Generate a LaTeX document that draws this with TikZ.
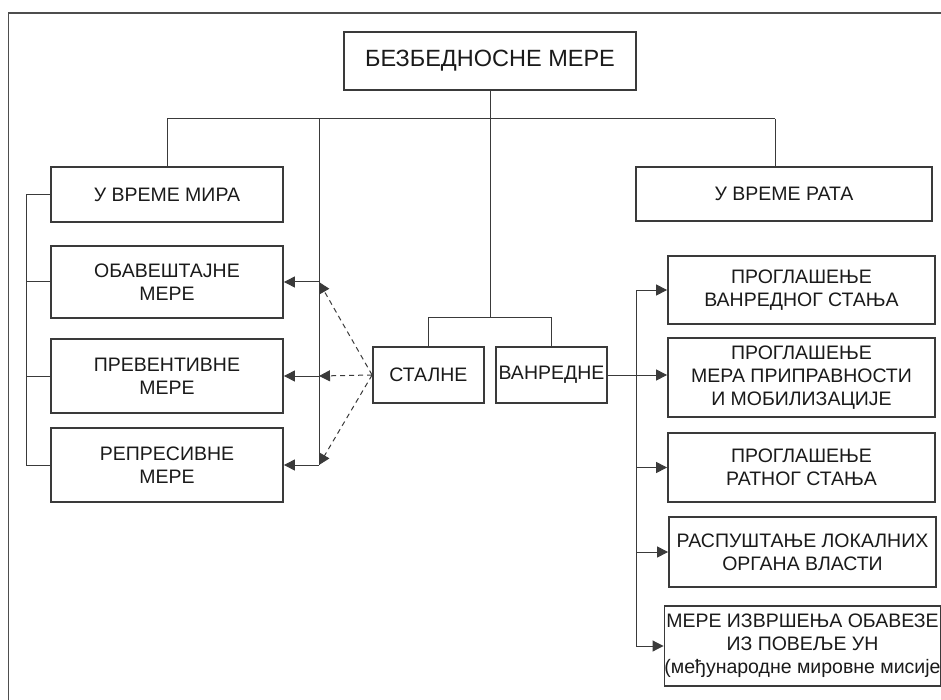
\documentclass[tikz,border=0pt]{standalone}
\usepackage{fontspec}
\setmainfont{Liberation Sans}
\usetikzlibrary{arrows.meta}
\definecolor{ln}{HTML}{3A3A3A}
\definecolor{tx}{HTML}{1A1A1A}
\tikzset{
  box/.style={draw=ln, line width=1.8pt, rectangle, inner sep=0pt, align=center, text=tx,
    font=\fontsize{19.5}{23}\selectfont},
  conn/.style={draw=ln, line width=1pt},
  arr/.style={conn, -{Triangle[length=11pt,width=11pt]}},
  darr/.style={conn, dashed, dash pattern=on 5pt off 4pt, -{Triangle[length=11pt,width=11pt]}},
}
\begin{document}
\begin{tikzpicture}[x=1pt,y=-1pt]
\useasboundingbox (0,0) rectangle (941,700);
% frame
\draw[draw=ln!90, line width=1.5pt] (8.5,710) -- (8.5,13) -- (950,13);
% nodes
\node[box, minimum width=292, minimum height=58, font=\fontsize{23.5}{26}\selectfont] (top) at (490,61) {БЕЗБЕДНОСНЕ МЕРЕ};
\node[box, minimum width=232, minimum height=55, font=\fontsize{19.5}{22}\selectfont] (mira) at (167,194.5) {У ВРЕМЕ МИРА};
\node[box, minimum width=296, minimum height=54, font=\fontsize{19.5}{22}\selectfont] (rata) at (784,194) {У ВРЕМЕ РАТА};
\node[box, minimum width=232, minimum height=72] (ob) at (167,282) {ОБАВЕШТАЈНЕ\\МЕРЕ};
\node[box, minimum width=232, minimum height=74] (prev) at (167,376) {ПРЕВЕНТИВНЕ\\МЕРЕ};
\node[box, minimum width=232, minimum height=74] (rep) at (167,465) {РЕПРЕСИВНЕ\\МЕРЕ};
\node[box, minimum width=111, minimum height=56] (stal) at (428.5,375) {СТАЛНЕ};
\node[box, minimum width=111, minimum height=56] (van) at (551.5,375) {ВАНРЕДНЕ};
\node[box, minimum width=267, minimum height=68] (r1) at (801.5,290) {ПРОГЛАШЕЊЕ\\ВАНРЕДНОГ СТАЊА};
\node[box, minimum width=267, minimum height=79] (r2) at (801.5,377.5) {ПРОГЛАШЕЊЕ\\МЕРА ПРИПРАВНОСТИ\\И МОБИЛИЗАЦИЈЕ};
\node[box, minimum width=267, minimum height=69] (r3) at (801.5,467.5) {ПРОГЛАШЕЊЕ\\РАТНОГ СТАЊА};
\node[box, minimum width=267, minimum height=70] (r4) at (802.5,552) {РАСПУШТАЊЕ ЛОКАЛНИХ\\ОРГАНА ВЛАСТИ};
\node[box, minimum width=271, minimum height=80] (r5) at (802.5,646) {МЕРЕ ИЗВРШЕЊА ОБАВЕЗЕ\\ИЗ ПОВЕЉЕ УН\\(међународне мировне мисије};
% junction coordinates
\coordinate (hl) at (167,119);
\coordinate (hr) at (775,119);
\coordinate (vt) at (319,119);
\coordinate (v1) at (319,282);
\coordinate (v2) at (319,376);
\coordinate (v3) at (319,465);
\coordinate (cm) at (490,317);
\coordinate (cl) at (428.5,317);
\coordinate (cr) at (551.5,317);
\coordinate (bl) at (26,194.5);
\coordinate (b3) at (26,465);
\coordinate (bus0) at (636,375);
\coordinate (bus1) at (636,290);
\coordinate (bus5) at (636,646);
% tree connectors
\draw[conn] (top.south) -- (cm);
\draw[conn] (hl) -- (hr);
\draw[conn] (hl) -- (mira.north);
\draw[conn] (hr) -- (rata.north -| hr);
\draw[conn] (vt) -- (v3);
\draw[conn] (cl) -- (cr);
\draw[conn] (cl) -- (stal.north);
\draw[conn] (cr) -- (van.north);
% left bracket
\draw[conn] (mira.west) -- (bl) -- (b3) -- (rep.west);
\draw[conn] (ob.west -| bl) -- (ob.west);
\draw[conn] (prev.west -| bl) -- (prev.west);
% arrows to left boxes
\draw[arr] (v1) -- (ob.east);
\draw[arr] (v2) -- (prev.east);
\draw[arr] (v3) -- (rep.east);
% dashed arrows from stalne
\draw[darr] (stal.west) -- (v1);
\draw[darr] (stal.west) -- (v2);
\draw[darr] (stal.west) -- (v3);
% right bus
\draw[conn] (van.east) -- (bus0);
\draw[conn] (bus1) -- (bus5);
\draw[arr] (bus1) -- (r1.west |- bus1);
\draw[arr] (bus0) -- (r2.west |- bus0);
\draw[arr] (r3.west -| bus1) -- (r3.west);
\draw[arr] (r4.west -| bus1) -- (r4.west);
\draw[arr] (bus5) -- (r5.west);
\end{tikzpicture}
\end{document}
